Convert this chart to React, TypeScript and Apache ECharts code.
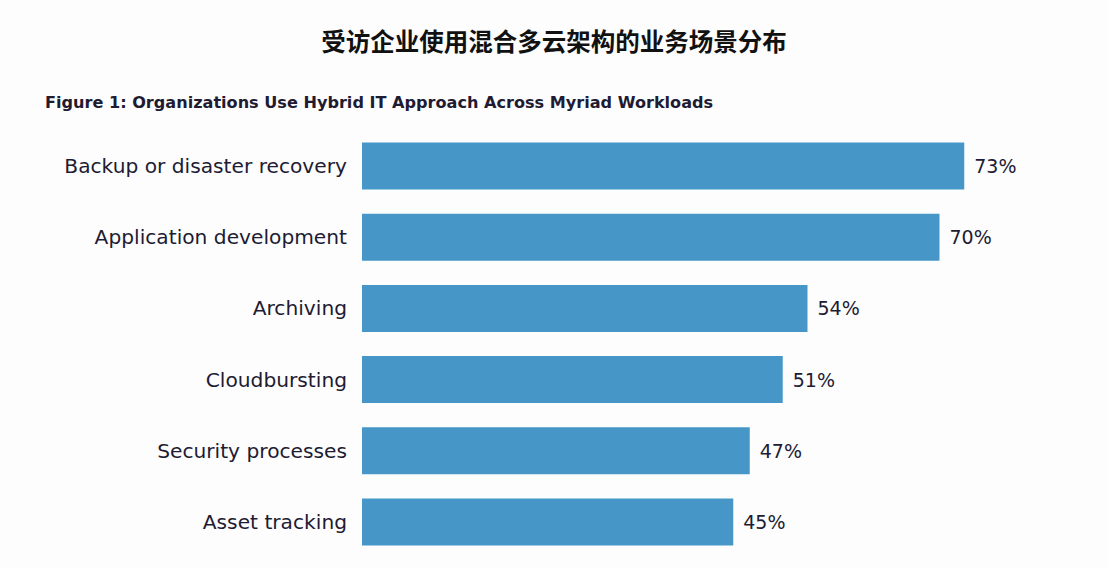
import React, { useEffect, useRef } from "react";
import * as echarts from "echarts";

const title = "受访企业使用混合多云架构的业务场景分布";
const subtitle = "Figure 1: Organizations Use Hybrid IT Approach Across Myriad Workloads";
const categories = [
  "Backup or disaster recovery",
  "Application development",
  "Archiving",
  "Cloudbursting",
  "Security processes",
  "Asset tracking",
];
const values = [73, 70, 54, 51, 47, 45];

const TEXT = "#211b32";
const BAR = "#4697c8";

export default function App() {
  const ref = useRef<HTMLDivElement>(null);
  useEffect(() => {
    if (!ref.current) return;
    const chart = echarts.init(ref.current, undefined, { renderer: "svg" });
    chart.setOption({
      animation: false,
      backgroundColor: "#fdfdfe",
      title: [
        {
          text: title,
          left: "center",
          top: 23,
          textStyle: {
            fontFamily: "Noto Sans CJK SC",
            fontSize: 24.5,
            fontWeight: "bold",
            color: "#111",
          },
        },
        {
          text: subtitle,
          left: 40,
          top: 89.5,
          textStyle: {
            fontFamily: "DejaVu Sans",
            fontSize: 16.1,
            fontWeight: "bold",
            color: TEXT,
          },
        },
      ],
      grid: { left: 362, right: 3.5, top: 130.5, bottom: 10.5, containLabel: false },
      xAxis: {
        type: "value",
        min: 0,
        max: 90,
        show: false,
      },
      yAxis: {
        type: "category",
        inverse: true,
        data: categories,
        axisLine: { show: false },
        axisTick: { show: false },
        axisLabel: {
          margin: 15,
          fontFamily: "DejaVu Sans",
          fontSize: 20.2,
          color: TEXT,
        },
      },
      series: [
        {
          type: "bar",
          data: values,
          barWidth: 47,
          itemStyle: { color: BAR },
          label: {
            show: true,
            position: "right",
            distance: 10,
            formatter: "{c}%",
            fontFamily: "DejaVu Sans",
            fontSize: 19,
            color: TEXT,
          },
        },
      ],
    });
    return () => chart.dispose();
  }, []);
  return (
    <div
      ref={ref}
      style={{ position: "fixed", left: 0, top: 0, width: 1108, height: 568 }}
    />
  );
}
